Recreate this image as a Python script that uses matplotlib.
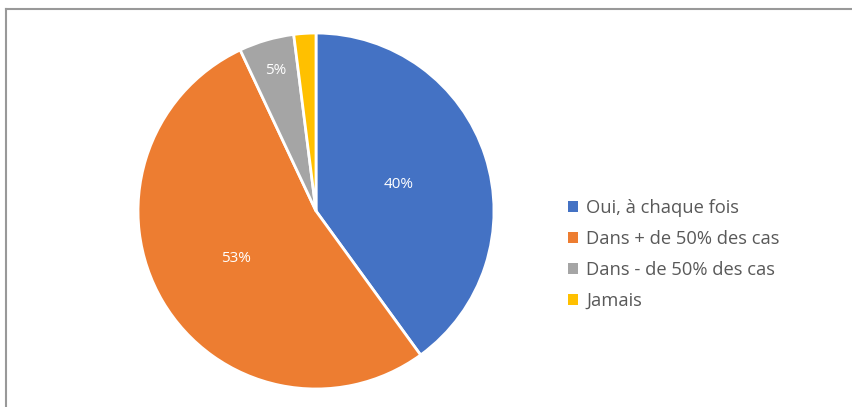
import numpy as np
import matplotlib
matplotlib.use("Agg")
import matplotlib.pyplot as plt
from matplotlib.lines import Line2D
from matplotlib.patches import Patch

labels = ["Oui, à chaque fois", "Dans + de 50% des cas", "Dans - de 50% des cas", "Jamais"]
values = [40, 53, 5, 2]
colors = ["#4472C4", "#ED7D31", "#A5A5A5", "#FFC000"]
shown = ["40%", "53%", "5%", ""]
label_dist = [0.49, 0.52, 0.82, 0.8]

plt.rcParams['font.family'] = ['Open Sans', 'DejaVu Sans']

fig = plt.figure(figsize=(8.52, 4.07), dpi=100)
ax = fig.add_axes([0.162, 0.0442, 0.4178, 0.8747])
wedges, _ = ax.pie(values, colors=colors, startangle=90, counterclock=False,
                   radius=1.0, wedgeprops=dict(edgecolor="white", linewidth=2))
ax.set_xlim(-1, 1)
ax.set_ylim(-1, 1)
ax.set_aspect("equal")
ax.axis("off")

for w, txt, d in zip(wedges, shown, label_dist):
    if not txt:
        continue
    mid = np.deg2rad((w.theta1 + w.theta2) / 2)
    ax.text(d * np.cos(mid), d * np.sin(mid), txt, ha="center", va="center",
            color="white", fontsize=11)

handles = [Patch(facecolor=c, edgecolor="none") for c in colors]
leg = fig.legend(handles, labels, loc="center left", bbox_to_anchor=(0.647, 0.375),
                 frameon=False, fontsize=13.2, labelcolor="#595959",
                 handlelength=0.55, handleheight=0.55, handletextpad=0.45,
                 labelspacing=0.72)

# outer frame (top and left edges visible)
fig.add_artist(Line2D([0.007, 1.0], [0.977, 0.977], color="#999999", lw=1.5,
                      transform=fig.transFigure))
fig.add_artist(Line2D([0.007, 0.007], [0.0, 0.977], color="#999999", lw=1.5,
                      transform=fig.transFigure))

fig.savefig("out.png", dpi=100)
